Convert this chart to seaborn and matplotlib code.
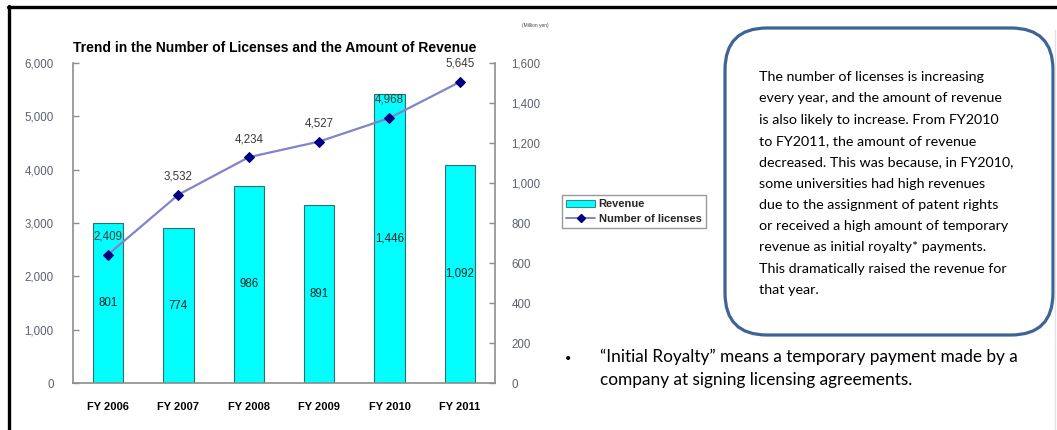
import matplotlib
matplotlib.use("Agg")
import matplotlib.pyplot as plt
import seaborn as sns
import numpy as np
import pandas as pd
from matplotlib.patches import FancyBboxPatch, Patch
from matplotlib.lines import Line2D

# ---- data -------------------------------------------------------------
years = ["FY 2006", "FY 2007", "FY 2008", "FY 2009", "FY 2010", "FY 2011"]
licenses = [2409, 3532, 4234, 4527, 4968, 5645]          # left axis
revenue = [801, 774, 986, 891, 1446, 1092]               # right axis (million yen)
license_ticks = [0, 1000, 2000, 3000, 4000, 5000, 6000]
revenue_ticks = [0, 200, 400, 600, 800, 1000, 1200, 1400, 1600]

title = "Trend in the Number of Licenses and the Amount of Revenue"
note_lines = [
    "The number of licenses is increasing",
    "every year, and the amount of revenue",
    "is also likely to increase. From FY2010",
    "to FY2011, the amount of revenue",
    "decreased. This was because, in FY2010,",
    "some universities had high revenues",
    "due to the assignment of patent rights",
    "or received a high amount of temporary",
    "revenue as initial royalty* payments.",
    "This dramatically raised the revenue for",
    "that year.",
]
footnote_lines = [
    "\u201cInitial Royalty\u201d means a temporary payment made by a",
    "company at signing licensing agreements.",
]

df = pd.DataFrame({"year": years, "licenses": licenses, "revenue": revenue})

# ---- style ------------------------------------------------------------
sns.set_theme(style="white")
plt.rcParams["font.family"] = ["Liberation Sans", "DejaVu Sans"]
LABEL_FONT = ["Liberation Sans", "DejaVu Sans"]
BODY = ["Lato", "DejaVu Sans"]

W, H = 1057, 430
fig = plt.figure(figsize=(W / 100, H / 100), dpi=100)
fig.patch.set_facecolor("white")

AXIS_GREY = "#8c8c8c"
TICK_TXT = "#5b6070"
CYAN = "#00ffff"
LINE_COL = "#8383c9"
MARK_COL = "#000080"

ax = fig.add_axes([73 / W, (H - 383) / H, (495 - 73) / W, (383 - 63) / H])
ax2 = ax.twinx()

# bars: revenue on the right-hand scale
sns.barplot(data=df, x="year", y="revenue", ax=ax2, color=CYAN, saturation=1,
            width=0.43, edgecolor="#356c6c", linewidth=0.8)
# line: number of licenses on the left-hand scale
sns.lineplot(x=np.arange(len(years)), y=licenses, ax=ax, color=LINE_COL,
             linewidth=1.6, marker="D", markersize=5,
             markerfacecolor=MARK_COL, markeredgecolor=MARK_COL)

# line above bars
ax.set_zorder(ax2.get_zorder() + 1)
ax.patch.set_visible(False)

ax.set_xlim(-0.5, len(years) - 0.5)
ax.set_ylim(0, 6000)
ax2.set_ylim(0, 1600)
ax.set_xlabel("")
ax.set_ylabel("")
ax2.set_xlabel("")
ax2.set_ylabel("")

ax.set_xticks(np.arange(len(years)))
ax.set_xticklabels(years, fontfamily=LABEL_FONT, fontweight="bold", fontsize=8, color="black")
ax.set_xticks(np.arange(len(years) - 1) + 0.5, minor=True)
ax.tick_params(axis="x", which="major", length=0, pad=14)
ax.tick_params(axis="x", which="minor", direction="in", length=4, width=1, color=AXIS_GREY)

ax.set_yticks(license_ticks)
ax.set_yticklabels([f"{t:,}" for t in license_ticks])
ax.tick_params(axis="y", direction="in", length=4, width=1, color=AXIS_GREY,
               labelsize=8.3, labelcolor=TICK_TXT, pad=14)
ax2.set_yticks(revenue_ticks)
ax2.set_yticklabels([f"{t:,}" for t in revenue_ticks])
ax2.tick_params(axis="y", direction="in", length=4, width=1, color=AXIS_GREY,
                labelsize=8.3, labelcolor=TICK_TXT, pad=12)

for a in (ax, ax2):
    for s in a.spines.values():
        s.set_color(AXIS_GREY)
        s.set_linewidth(1.2)
    a.spines["top"].set_visible(False)
ax.spines["right"].set_visible(False)
ax2.spines["left"].set_visible(False)
ax2.spines["bottom"].set_visible(False)

# value labels
for i, v in enumerate(revenue):
    ax2.text(i, v / 2, f"{v:,}", ha="center", va="center", fontsize=8.3, color="#222222")
for i, v in enumerate(licenses):
    ax.annotate(f"{v:,}", (i, v), xytext=(0, 13), textcoords="offset points",
                ha="center", va="center", fontsize=8.3, color="#3a3a3a")

# title and unit caption
fig.text(73 / W, 1 - 48 / H, title, ha="left", va="center", fontsize=10,
         fontweight="bold", fontfamily=LABEL_FONT, color="black")
fig.text(535 / W, 1 - 25 / H, "(Million yen)", ha="center", va="center",
         fontsize=3.5, color="#444444")

# legend
handles = [Patch(facecolor=CYAN, edgecolor="#356c6c", linewidth=0.6),
           Line2D([], [], color=LINE_COL, linewidth=1.4, marker="D", markersize=4,
                  markerfacecolor=MARK_COL, markeredgecolor=MARK_COL)]
leg = fig.legend(handles, ["Revenue", "Number of licenses"], loc="upper left",
                 bbox_to_anchor=(562 / W, 1 - 195 / H), frameon=True,
                 fancybox=False, edgecolor="#9a9a9a", framealpha=1,
                 handlelength=2.6, handletextpad=0.3, borderpad=0.4,
                 labelspacing=0.4, borderaxespad=0,
                 prop={"family": LABEL_FONT, "weight": "bold", "size": 8})
leg.get_frame().set_linewidth(1.0)

# rounded comment box
box = FancyBboxPatch((7.25, (H - 335) / 100), 3.28, 3.07,
                     boxstyle="round,pad=0,rounding_size=0.42",
                     transform=fig.dpi_scale_trans, facecolor="white",
                     edgecolor="#3d6494", linewidth=2.3)
fig.add_artist(box)
for k, line in enumerate(note_lines):
    fig.text(759 / W, 1 - (77 + 21.3 * k) / H, line, ha="left", va="center",
             fontsize=10.3, fontfamily=BODY, color="black")

# footnote
fig.text(568 / W, 1 - 359 / H, "\u2022", ha="center", va="center", fontsize=8,
         fontfamily=BODY, color="black")
for k, line in enumerate(footnote_lines):
    fig.text(600 / W, 1 - (357 + 23 * k) / H, line, ha="left", va="center",
             fontsize=12.4, fontfamily=BODY, color="black")

# frame lines along the top and left edges
fig.add_artist(Line2D([9 / W, 9 / W], [0, 1 - 6 / H], transform=fig.transFigure,
                      color="black", linewidth=2.4))
fig.add_artist(Line2D([8 / W, 1], [1 - 7 / H, 1 - 7 / H], transform=fig.transFigure,
                      color="black", linewidth=2.4))
fig.add_artist(Line2D([1055 / W, 1055 / W], [0, 1 - 30 / H], transform=fig.transFigure,
                      color="#e2e2e2", linewidth=1))

fig.savefig("out.png", dpi=100)
